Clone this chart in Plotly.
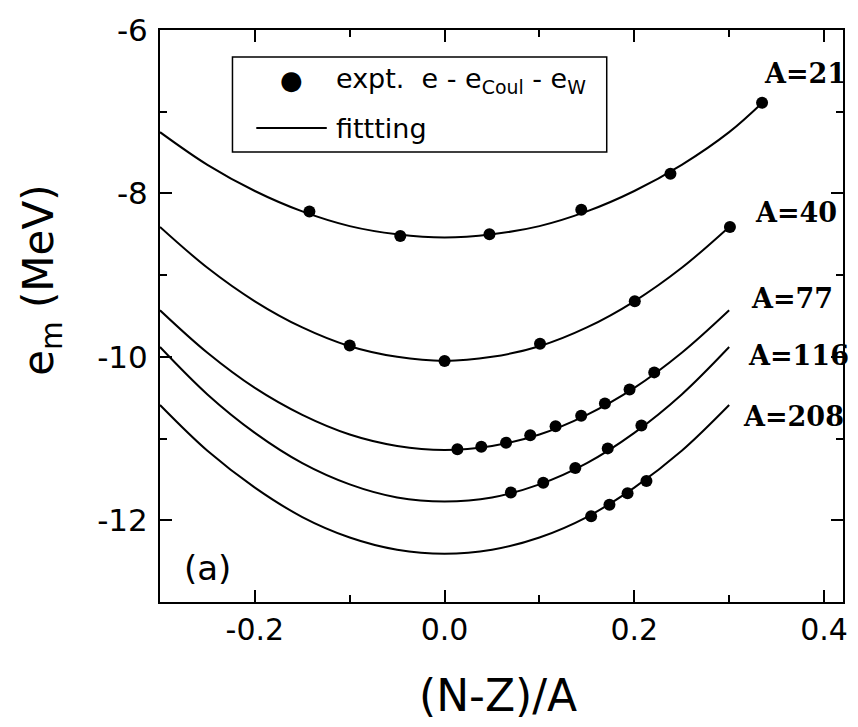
import plotly.graph_objects as go

# ---- data ----
fit_x = [-0.30, -0.25, -0.20, -0.15, -0.10, -0.05, 0.00, 0.05, 0.10, 0.15, 0.20, 0.25, 0.30]
fit_x21 = fit_x + [0.335]
fit_A21 = [-7.25, -7.65, -7.97, -8.22, -8.40, -8.50, -8.54, -8.50, -8.40, -8.22, -7.97, -7.65, -7.25, -6.89]
fit_A40 = [-8.41, -8.91, -9.32, -9.64, -9.87, -10.00, -10.05, -10.00, -9.87, -9.64, -9.32, -8.91, -8.41]
fit_A77 = [-9.43, -9.95, -10.38, -10.71, -10.95, -11.09, -11.14, -11.09, -10.95, -10.71, -10.38, -9.95, -9.43]
fit_A116 = [-9.88, -10.46, -10.93, -11.30, -11.56, -11.72, -11.77, -11.72, -11.56, -11.30, -10.93, -10.46, -9.88]
fit_A208 = [-10.59, -11.15, -11.60, -11.96, -12.21, -12.36, -12.41, -12.36, -12.21, -11.96, -11.60, -11.15, -10.59]

exp21_x = [-0.1425, -0.0467, 0.0473, 0.1441, 0.2381, 0.3347]
exp21_y = [-8.22, -8.52, -8.50, -8.20, -7.76, -6.89]
exp40_x = [-0.100, 0.000, 0.1006, 0.2005, 0.3008]
exp40_y = [-9.86, -10.05, -9.84, -9.32, -8.41]
exp77_x = [0.0135, 0.0387, 0.0648, 0.0903, 0.117, 0.144, 0.169, 0.195, 0.221]
exp77_y = [-11.13, -11.10, -11.05, -10.96, -10.85, -10.72, -10.57, -10.40, -10.19]
exp116_x = [0.0699, 0.104, 0.1378, 0.172, 0.2075]
exp116_y = [-11.66, -11.54, -11.36, -11.12, -10.84]
exp208_x = [0.1545, 0.1738, 0.1929, 0.2128]
exp208_y = [-11.95, -11.81, -11.67, -11.52]

labels = ["A=21", "A=40", "A=77", "A=116", "A=208"]
label_x = [0.380, 0.370, 0.366, 0.373, 0.368]
label_y = [-6.53, -8.23, -9.28, -9.98, -10.73]

x_ticks = [-0.2, 0.0, 0.2, 0.4]
y_ticks = [-12, -10, -8, -6]

fig = go.Figure()
for xs, ys in [(fit_x21, fit_A21), (fit_x, fit_A40), (fit_x, fit_A77), (fit_x, fit_A116), (fit_x, fit_A208)]:
    fig.add_trace(go.Scatter(x=xs, y=ys, mode="lines", line=dict(color="black", width=2, shape="spline"),
                             showlegend=False, hoverinfo="skip"))
for xs, ys in [(exp21_x, exp21_y), (exp40_x, exp40_y), (exp77_x, exp77_y), (exp116_x, exp116_y), (exp208_x, exp208_y)]:
    fig.add_trace(go.Scatter(x=xs, y=ys, mode="markers", marker=dict(color="black", size=12, symbol="circle"),
                             showlegend=False))

L, R, T, B = 160, 848, 30, 602
W, H = 858, 727
def px(x):
    return (x - L) / (R - L)
def py(y):
    return (B - y) / (B - T)

SANS = "DejaVu Sans"
ann = []
for t, xx, yy in zip(labels, label_x, label_y):
    ann.append(dict(x=xx, y=yy, xref="x", yref="y", text=t, showarrow=False,
                    xanchor="center", yanchor="middle",
                    font=dict(family="DejaVu Serif", size=27, color="black", weight="bold")))
# legend (manual)
ann.append(dict(x=px(292), y=py(80), xref="paper", yref="paper", text="\u25CF", showarrow=False,
                xanchor="center", yanchor="middle",
                font=dict(family="DejaVu Sans", size=26, color="black")))
ann.append(dict(x=px(335), y=py(80), xref="paper", yref="paper", xanchor="left", yanchor="middle",
                text="expt.  e - e<sub>Coul</sub> - e<sub>W</sub>", showarrow=False,
                font=dict(family=SANS, size=27, color="black")))
ann.append(dict(x=px(335), y=py(128), xref="paper", yref="paper", xanchor="left", yanchor="middle",
                text="fittting", showarrow=False,
                font=dict(family=SANS, size=27, color="black")))
ann.append(dict(x=px(208), y=py(568), xref="paper", yref="paper", text="(a)", showarrow=False,
                xanchor="center", yanchor="middle",
                font=dict(family=SANS, size=34, color="black")))
# axis titles
ann.append(dict(x=px(500), y=py(695), xref="paper", yref="paper", text="(N-Z)/A", showarrow=False,
                xanchor="center", yanchor="middle",
                font=dict(family=SANS, size=44, color="black")))
ann.append(dict(x=px(40), y=py(280), xref="paper", yref="paper", text="e<sub>m</sub> (MeV)", showarrow=False,
                xanchor="center", yanchor="middle",
                textangle=-90, font=dict(family=SANS, size=42, color="black")))

shapes = [
    dict(type="rect", xref="paper", yref="paper", x0=px(233), x1=px(610), y0=py(57), y1=py(152),
         line=dict(color="black", width=1.5), fillcolor="white", layer="above"),
    dict(type="line", xref="paper", yref="paper", x0=px(257), x1=px(328), y0=py(128), y1=py(128),
         line=dict(color="black", width=2)),
]

fig.update_layout(
    width=W, height=H,
    margin=dict(l=L, r=W - R, t=T, b=H - B),
    paper_bgcolor="white", plot_bgcolor="white",
    showlegend=False,
    annotations=ann, shapes=shapes,
    font=dict(family=SANS, color="black"),
)
fig.update_xaxes(range=[-0.3, 0.42], tickvals=x_ticks, ticktext=["%.1f" % v for v in x_ticks],
                 ticks="inside", ticklen=12, tickwidth=2, tickcolor="black",
                 minor=dict(tickvals=[-0.1, 0.1, 0.3], ticks="inside", ticklen=7, tickwidth=2, tickcolor="black"),
                 showline=True, linewidth=2, linecolor="black", mirror="ticks",
                 showgrid=False, zeroline=False, tickfont=dict(size=30, family=SANS))
fig.update_yaxes(range=[-13, -6], tickvals=y_ticks, ticktext=[str(v) for v in y_ticks],
                 ticks="inside", ticklen=12, tickwidth=2, tickcolor="black",
                 minor=dict(tickvals=[-13, -11, -9, -7], ticks="inside", ticklen=7, tickwidth=2, tickcolor="black"),
                 showline=True, linewidth=2, linecolor="black", mirror="ticks", ticklabelstandoff=4,
                 showgrid=False, zeroline=False, tickfont=dict(size=31, family=SANS))

fig.write_html("out.html")
